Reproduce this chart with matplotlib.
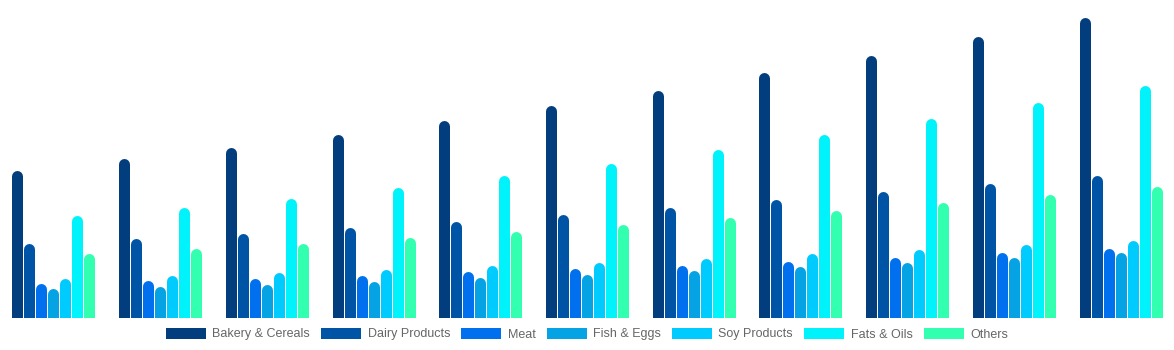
import numpy as np
import matplotlib
matplotlib.use("Agg")
import matplotlib.pyplot as plt
from matplotlib.patches import Patch

# heights (arbitrary units, one per pixel)
series = ["Bakery & Cereals", "Dairy Products", "Meat", "Fish & Eggs",
          "Soy Products", "Fats & Oils", "Others"]
bakery = [148, 160, 171, 184, 198, 213, 228, 246, 263, 282, 301]
dairy = [75, 80, 85, 91, 97, 104, 111, 119, 127, 135, 143]
meat = [35, 38, 40, 43, 47, 50, 53, 57, 61, 66, 70]
fish = [30, 32, 34, 37, 41, 44, 48, 52, 56, 61, 66]
soy = [40, 43, 46, 49, 53, 56, 60, 65, 69, 74, 78]
fats = [103, 111, 120, 131, 143, 155, 169, 184, 200, 216, 233]
others = [65, 70, 75, 81, 87, 94, 101, 108, 116, 124, 132]
colors = ["#023e7d", "#0054a6", "#0070ee", "#05a3e3", "#00cbff", "#00f3fb", "#33ffb1"]

values = [bakery, dairy, meat, fish, soy, fats, others]
n_groups = len(bakery)

W, H, DPI = 11.74, 3.5, 100
fig = plt.figure(figsize=(W, H), dpi=DPI)
ax = fig.add_axes([0, 32 / 350, 1, 318 / 350])
ax.set_xlim(-0.5, n_groups - 0.5)
ax.set_ylim(0, 318)
ax.axis("off")

# pixel geometry
px_per_x = W * DPI / n_groups
step = 12 / px_per_x          # distance between bar centres
bar_px = 11                   # bar width in pixels
r = bar_px / 2                # top rounding radius (data units == px vertically)
lw = bar_px * 72 / DPI

x = np.arange(n_groups)
for i, (vals, col) in enumerate(zip(values, colors)):
    xs = x + (i - 3) * step
    tops = np.array(vals) - r
    ax.vlines(xs, -20, tops, colors=col, linewidth=lw, capstyle="round")

handles = [Patch(facecolor=c, edgecolor="none") for c in colors]
fig.legend(handles, series, loc="lower center", ncol=7, frameon=False,
           bbox_to_anchor=(0.5, -0.005), fontsize=9, handlelength=3.2,
           handleheight=1.0, handletextpad=0.5, columnspacing=0.9,
           labelcolor="#666666", prop={"family": "Liberation Sans", "size": 9})

fig.savefig("out.png", dpi=DPI)
